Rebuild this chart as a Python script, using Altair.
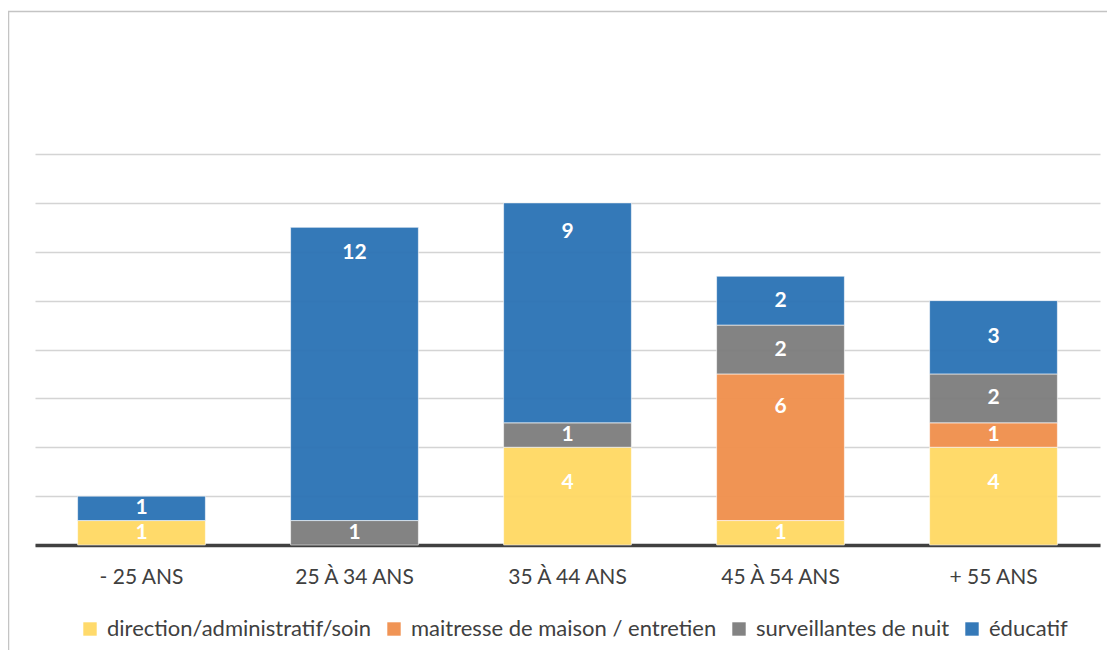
import altair as alt
import pandas as pd

ages = ["- 25 ANS", "25 À 34 ANS", "35 À 44 ANS", "45 À 54 ANS", "+ 55 ANS"]
series = ["direction/administratif/soin", "maitresse de maison / entretien",
          "surveillantes de nuit", "éducatif"]
colors = ["#FFD966", "#F0914F", "#7F7F7F", "#2E75B6"]

direction = [1, 0, 4, 1, 4]
maitresse = [0, 0, 0, 6, 1]
surveillantes = [0, 1, 1, 2, 2]
educatif = [1, 12, 9, 2, 3]

rows = []
for si, (name, vals) in enumerate(zip(series, [direction, maitresse, surveillantes, educatif])):
    for a, v in zip(ages, vals):
        if v > 0:
            rows.append({"age": a, "serie": name, "idx": si, "value": v})
df = pd.DataFrame(rows)

FONT = "Lato"
TXT = "#404040"

base = alt.Chart(df).transform_stack(
    stack="value", groupby=["age"], sort=[alt.SortField("idx", order="ascending")],
    as_=["y0", "y1"]
)

x_enc = alt.X("age:N", sort=ages, title=None,
              scale=alt.Scale(paddingInner=0.4, paddingOuter=0.2),
              axis=alt.Axis(labelAngle=0, labelFontSize=21, labelFont=FONT, labelColor=TXT,
                            labelPadding=21, ticks=False, domainColor="#404040",
                            domainWidth=3.5, grid=False))

y_scale = alt.Scale(domain=[0, 16], nice=False)

bars = base.mark_bar(stroke="white", strokeWidth=1, strokeOpacity=0.6, opacity=0.97).encode(
    x=x_enc,
    y=alt.Y("y0:Q", scale=y_scale, title=None,
            axis=alt.Axis(values=list(range(0, 17, 2)), labels=False, ticks=False,
                          domain=False, gridColor="#d4d4d4", gridWidth=1.5)),
    y2="y1:Q",
    color=alt.Color("serie:N", sort=series,
                    scale=alt.Scale(domain=series, range=colors),
                    legend=alt.Legend(title=None, orient="none", direction="horizontal",
                                      columns=4, legendX=44, legendY=464,
                                      symbolType="square", symbolSize=180,
                                      symbolStrokeWidth=0, labelFont=FONT,
                                      labelFontSize=22, labelColor=TXT,
                                      labelOffset=6, columnPadding=11,
                                      labelLimit=400)),
    order=alt.Order("idx:Q", sort="ascending"),
)

labels = base.transform_calculate(
    ly="(datum.y0 + datum.y1) / 2 + max(0, (datum.value - 3) * 0.55)"
).mark_text(color="white", font=FONT, fontWeight="bold", fontSize=21,
            baseline="middle").encode(
    x=alt.X("age:N", sort=ages),
    y=alt.Y("ly:Q", scale=y_scale),
    text="value:Q",
)

border_df = pd.DataFrame({"k": [0]})
border = alt.Chart(border_df).mark_rect(fill=None, stroke="#c4c4c4", strokeWidth=1.5).encode(
    x=alt.value(-26.5), x2=alt.value(1200), y=alt.value(-142.5), y2=alt.value(700)
)

chart = alt.layer(border, bars, labels).properties(
    width=1065, height=391,
    padding={"left": 27, "top": 146, "right": 7, "bottom": 105},
    autosize=alt.AutoSizeParams(type="none"),
).configure_view(stroke=None)

chart.save("out.html", embed_options={"renderer": "svg", "actions": False})
